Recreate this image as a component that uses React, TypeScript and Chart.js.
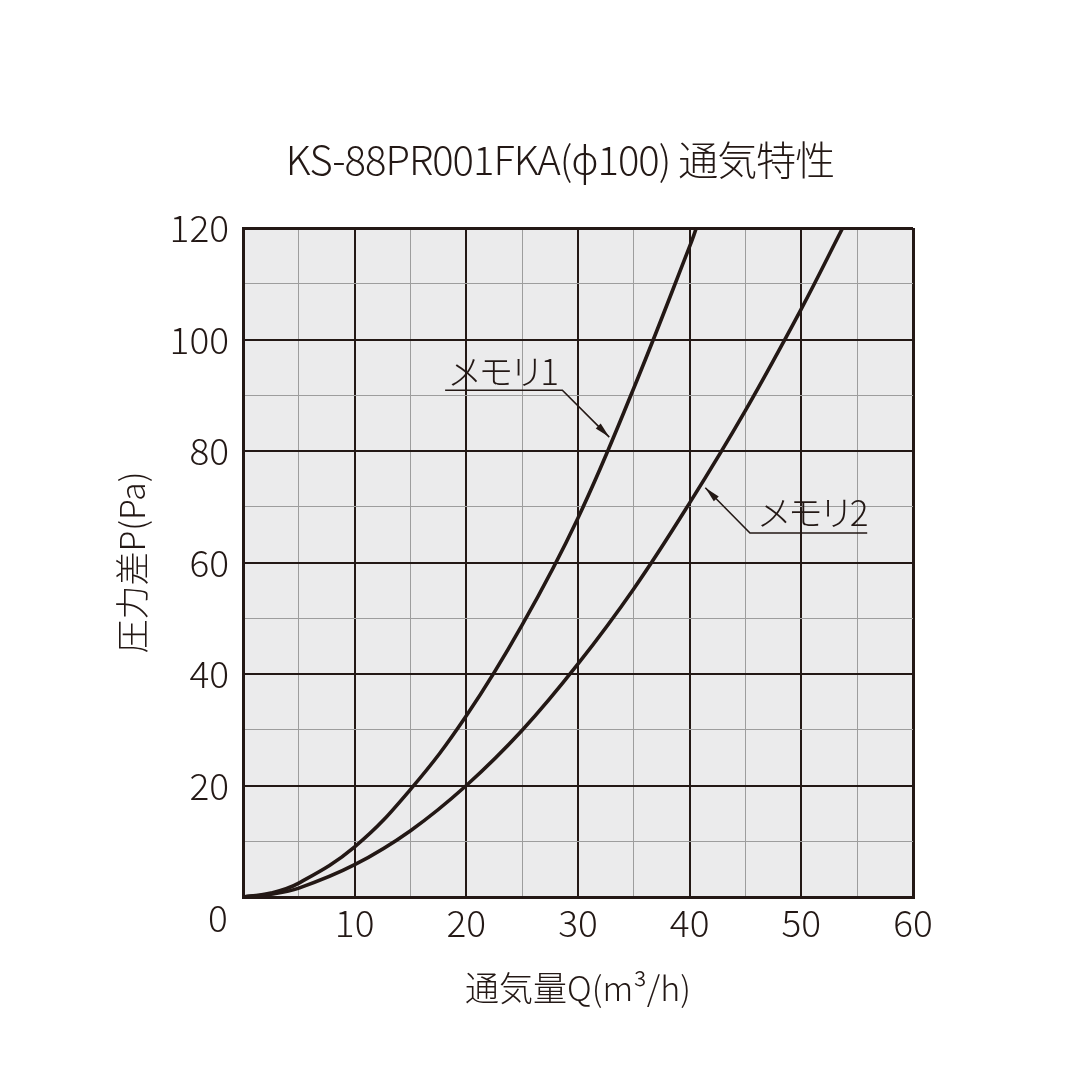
import { useEffect, useRef } from 'react';
import { Chart, registerables } from 'chart.js';

Chart.register(...registerables);

// flow Q (m3/h) vs pressure difference P (Pa)
const memori1Q = [0, 2.5, 5, 10, 15, 20, 25, 30, 35, 40, 40.6];
const memori1P = [0, 0.7, 2.5, 9, 19.3, 32.5, 48.8, 68, 91.3, 116.7, 120];
const memori2Q = [0, 2.5, 5, 10, 15, 20, 25, 30, 35, 40, 45, 50, 53.7];
const memori2P = [0, 0.5, 1.6, 5.8, 11.9, 20, 29.9, 41.8, 55.3, 70.7, 87.3, 105.5, 120];

const xMax = 60;
const yMax = 120;

const title = 'KS-88PR001FKA(\u03d5100) 通気特性';
const xTitle = '通気量Q(m³/h)';
const yTitle = '圧力差P(Pa)';

// callouts: text anchor, underline from/elbow, arrow tip (data units)
const notes = [
  { text: 'メモリ1', textAt: [18.3, 91.8], lineFrom: [18.1, 90.9], elbow: [28.6, 90.9], tip: [32.8, 82.5] },
  { text: 'メモリ2', textAt: [46.0, 66.5], lineFrom: [55.9, 65.3], elbow: [45.4, 65.3], tip: [41.4, 73.4] },
];

const INK = '#231815';
const MINOR = '#9d9d9d';
const PLOT_BG = '#ebebec';
const FONT = '"Noto Sans CJK JP", "Noto Sans", sans-serif';

const toPoints = (xs: number[], ys: number[]) => xs.map((x, i) => ({ x, y: ys[i] }));

const extras = {
  id: 'extras',
  beforeDraw(chart: any) {
    const { ctx, chartArea } = chart;
    ctx.save();
    ctx.fillStyle = PLOT_BG;
    ctx.fillRect(chartArea.left, chartArea.top, chartArea.right - chartArea.left, chartArea.bottom - chartArea.top);
    ctx.restore();
  },
  afterDraw(chart: any) {
    const { ctx, chartArea, scales } = chart;
    const x = scales.x;
    const y = scales.y;
    ctx.save();
    ctx.fillStyle = INK;
    ctx.strokeStyle = INK;

    // title
    ctx.font = `300 40px ${FONT}`;
    ctx.letterSpacing = '-1px';
    ctx.textAlign = 'center';
    ctx.textBaseline = 'middle';
    ctx.fillText(title, (chartArea.left + chartArea.right) / 2 - 18, 160);
    ctx.letterSpacing = '0px';

    // shared zero
    ctx.font = `300 37px ${FONT}`;
    ctx.fillText('0', chartArea.left - 25, chartArea.bottom + 21);

    // callouts
    ctx.lineWidth = 1.6;
    for (const n of notes) {
      ctx.font = `300 35px ${FONT}`;
      ctx.letterSpacing = '-4px';
      ctx.textAlign = 'left';
      ctx.textBaseline = 'alphabetic';
      ctx.fillText(n.text, x.getPixelForValue(n.textAt[0]), y.getPixelForValue(n.textAt[1]));
      ctx.letterSpacing = '0px';
      const fx = x.getPixelForValue(n.lineFrom[0]);
      const fy = y.getPixelForValue(n.lineFrom[1]);
      const ex = x.getPixelForValue(n.elbow[0]);
      const ey = y.getPixelForValue(n.elbow[1]);
      const tx = x.getPixelForValue(n.tip[0]);
      const ty = y.getPixelForValue(n.tip[1]);
      ctx.beginPath();
      ctx.moveTo(fx, fy);
      ctx.lineTo(ex, ey);
      ctx.lineTo(tx, ty);
      ctx.stroke();
      const ang = Math.atan2(ty - ey, tx - ex);
      const len = 16;
      const wing = 0.22;
      ctx.beginPath();
      ctx.moveTo(tx, ty);
      ctx.lineTo(tx - len * Math.cos(ang - wing), ty - len * Math.sin(ang - wing));
      ctx.lineTo(tx - len * Math.cos(ang + wing), ty - len * Math.sin(ang + wing));
      ctx.closePath();
      ctx.fill();
    }
    ctx.restore();
  },
};

export default function App() {
  const canvasRef = useRef<HTMLCanvasElement>(null);

  useEffect(() => {
    if (!canvasRef.current) return;

    const gridWidth = (v: number, max: number, major: number) =>
      v === 0 || v === max ? 3 : v % major === 0 ? 2 : 1;

    const chart = new Chart(canvasRef.current, {
      type: 'line',
      data: {
        datasets: [
          {
            label: 'メモリ1',
            data: toPoints(memori1Q, memori1P),
            borderColor: INK,
            borderWidth: 3.6,
            pointRadius: 0,
            tension: 0.4,
            fill: false,
          },
          {
            label: 'メモリ2',
            data: toPoints(memori2Q, memori2P),
            borderColor: INK,
            borderWidth: 3.6,
            pointRadius: 0,
            tension: 0.4,
            fill: false,
          },
        ],
      },
      options: {
        responsive: false,
        animation: false,
        layout: { padding: { left: 0, top: 228, right: 167, bottom: 0 } },
        plugins: {
          legend: { display: false },
          tooltip: { enabled: false },
        },
        scales: {
          x: {
            type: 'linear',
            min: 0,
            max: xMax,
            afterFit: (s: any) => { s.height = 183; },
            border: { display: true, color: INK, width: 3 },
            grid: {
              drawTicks: false,
              color: (c: any) => (c.tick.value % 10 === 0 ? INK : MINOR),
              lineWidth: (c: any) => gridWidth(c.tick.value, xMax, 10),
            },
            ticks: {
              stepSize: 5,
              padding: 4,
              color: INK,
              maxRotation: 0,
              autoSkip: false,
              font: { family: FONT, size: 37, weight: 300 },
              callback: (v: any) => (v !== 0 && v % 10 === 0 ? String(v) : ''),
            },
            title: {
              display: true,
              text: xTitle,
              color: INK,
              font: { family: FONT, size: 34, weight: 300 },
              padding: { top: 0, bottom: 72 },
            },
          },
          y: {
            type: 'linear',
            min: 0,
            max: yMax,
            afterFit: (s: any) => { s.width = 243; },
            border: { display: true, color: INK, width: 3 },
            grid: {
              drawTicks: false,
              color: (c: any) => (c.tick.value % 20 === 0 ? INK : MINOR),
              lineWidth: (c: any) => gridWidth(c.tick.value, yMax, 20),
            },
            ticks: {
              stepSize: 10,
              padding: 14,
              color: INK,
              autoSkip: false,
              font: { family: FONT, size: 37, weight: 300 },
              callback: (v: any) => (v !== 0 && v % 20 === 0 ? String(v) : ''),
            },
            title: {
              display: true,
              text: yTitle,
              color: INK,
              font: { family: FONT, size: 34, weight: 300 },
              padding: { top: 112, bottom: 0 },
            },
          },
        },
      },
      plugins: [extras],
    });

    return () => {
      chart.destroy();
    };
  }, []);

  return (
    <div style={{ position: 'absolute', left: 0, top: 0, width: 1080, height: 1080, background: '#fff' }}>
      <canvas ref={canvasRef} width={1080} height={1080} />
    </div>
  );
}
